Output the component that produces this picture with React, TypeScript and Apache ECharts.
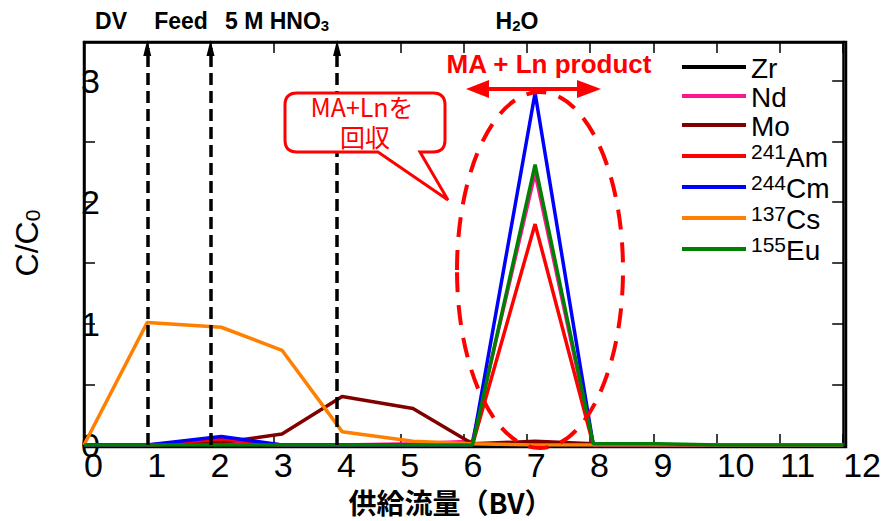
import React, { useEffect, useRef } from "react";
import * as echarts from "echarts";

const xValues = [0, 1, 2.17, 3.13, 4.08, 5.2, 6.14, 7.13, 8.05, 9.05, 10.05, 11.05, 12];
const zr = [0, 0, 0, 0, 0, 0, 0, 0.01, 0, 0, 0, 0, 0];
const nd = [0, 0, 0.02, 0, 0, 0.01, 0.03, 2.24, 0, 0, 0, 0, 0];
const mo = [0, 0, 0.02, 0.09, 0.4, 0.3, 0.01, 0.03, 0.01, 0, 0, 0, 0];
const am = [0, 0, 0.05, 0, 0, 0, 0, 1.82, 0, 0, 0, 0, 0];
const cm = [0, 0, 0.07, 0, 0, 0, 0, 2.9, 0, 0, 0, 0, 0];
const cs = [0, 1.01, 0.97, 0.78, 0.11, 0.03, 0.01, 0, 0, 0, 0, 0, 0];
const eu = [0, 0, 0, 0, 0, 0, 0, 2.31, 0.01, 0.01, 0, 0, 0];

const seriesNames = ["Zr", "Nd", "Mo", "241Am", "244Cm", "137Cs", "155Eu"];
const seriesLabels = ["{n|Zr}", "{n|Nd}", "{n|Mo}", "{s|241}{n|Am}", "{s|244}{n|Cm}", "{s|137}{n|Cs}", "{s|155}{n|Eu}"];
const seriesValues = [zr, nd, mo, am, cm, cs, eu];
const seriesColors = ["#000000", "#ff1493", "#800000", "#ff0000", "#0000ff", "#ff8000", "#008000"];
const stageLines = [1, 2, 4];

const xMin = 0;
const xMax = 12;
const yMax = 3.32;
const LATIN = "'Liberation Sans', Arial, sans-serif";
const CJK = "'Noto Sans CJK JP', 'Liberation Sans', sans-serif";

const calloutPath =
  "M297 93 H433 Q445 93 445 105 V140 Q445 152 433 152 H420 L448 200 L378 152 H297 Q285 152 285 140 V105 Q285 93 297 93 Z";

// plot frame in pixels (matches grid below)
const GL = 84, GT = 42, GR = 846, GB = 447;

export default function App() {
  const ref = useRef<HTMLDivElement>(null);
  useEffect(() => {
    if (!ref.current) return;
    try {
      echarts.graphic.registerShape("callout", echarts.graphic.extendPath(calloutPath, {}));
    } catch (e) {}
    const chart = echarts.init(ref.current, null, { renderer: "svg" });
    const mkLine = () => ({ show: true, onZero: false, lineStyle: { color: "#000", width: 2.5 } });
    const mkTick = () => ({ show: true, inside: true, length: 11, lineStyle: { color: "#000", width: 1.5 } });
    const series: any[] = seriesNames.map((name, i) => ({
      name,
      type: "line",
      data: xValues.map((x, j) => [x, seriesValues[i][j]]),
      symbol: "none",
      showSymbol: false,
      lineStyle: { width: 3.5, color: seriesColors[i] },
      itemStyle: { color: seriesColors[i] },
      emphasis: { disabled: true },
      z: 2 + i * 0.01,
    }));
    series[0].markLine = {
      silent: true,
      symbol: ["none", "triangle"],
      symbolSize: [8, 16],
      label: { show: false },
      lineStyle: { color: "#000", width: 3.5, type: [12, 6] },
      z: 10,
      data: stageLines.map((x) => [
        { coord: [x, 0] },
        { coord: [x, 3.27] },
      ]),
    };
    const frameStyle = { stroke: "#000000", lineWidth: 2.5 };
    const graphic: any[] = [
      { type: "polyline", z: 1, silent: true, shape: { points: [[GL, GB], [GL, GT], [GR, GT], [GR, GB], [GL, GB]] }, style: { ...frameStyle, fill: null } },
      {
        type: "text",
        x: 27,
        y: 243,
        rotation: Math.PI / 2,
        style: {
          text: "{a|C/C}{b|0}",
          align: "center",
          verticalAlign: "middle",
          fill: "#000",
          rich: {
            a: { fontSize: 32, lineHeight: 32, fontFamily: LATIN, fill: "#000" },
            b: { fontSize: 21, lineHeight: 8, verticalAlign: "bottom", fontFamily: LATIN, fill: "#000" },
          },
        },
      },
      { type: "text", x: 111, y: 21, style: { text: "DV", fontSize: 23, fontWeight: "bold", fontFamily: LATIN, fill: "#000", align: "center", verticalAlign: "middle" } },
      { type: "text", x: 181, y: 21, style: { text: "Feed", fontSize: 23, fontWeight: "bold", fontFamily: LATIN, fill: "#000", align: "center", verticalAlign: "middle" } },
      {
        type: "text",
        x: 225,
        y: 21,
        style: {
          text: "{m|5 M HNO}{s|3}",
          align: "left",
          verticalAlign: "middle",
          fill: "#000",
          rich: {
            m: { fontSize: 23, lineHeight: 23, fontWeight: "bold", fontFamily: LATIN, fill: "#000" },
            s: { fontSize: 15, lineHeight: 6, verticalAlign: "bottom", fontWeight: "bold", fontFamily: LATIN, fill: "#000" },
          },
        },
      },
      {
        type: "text",
        x: 517,
        y: 21,
        style: {
          text: "{m|H}{s|2}{m|O}",
          align: "center",
          verticalAlign: "middle",
          fill: "#000",
          rich: {
            m: { fontSize: 23, lineHeight: 23, fontWeight: "bold", fontFamily: LATIN, fill: "#000" },
            s: { fontSize: 15, lineHeight: 6, verticalAlign: "bottom", fontWeight: "bold", fontFamily: LATIN, fill: "#000" },
          },
        },
      },
      {
        type: "text",
        x: 549,
        y: 64,
        z: 100,
        style: { text: "MA + Ln product", fontSize: 26, fontWeight: "bold", fontFamily: LATIN, fill: "#ff0000", align: "center", verticalAlign: "middle" },
      },
      { type: "line", z: 100, shape: { x1: 486, y1: 89, x2: 580, y2: 89 }, style: { stroke: "#ff0000", lineWidth: 4 } },
      { type: "polygon", z: 100, shape: { points: [[466, 89], [489, 80], [489, 98]] }, style: { fill: "#ff0000" } },
      { type: "polygon", z: 100, shape: { points: [[601, 89], [577, 80], [577, 98]] }, style: { fill: "#ff0000" } },
      {
        type: "ellipse",
        z: 100,
        shape: { cx: 540, cy: 270, rx: 83, ry: 178 },
        style: { fill: "none", stroke: "#ff0000", lineWidth: 4, lineDash: [20, 13] },
      },
      { type: "callout", z: 100, x: 0, y: 0, style: { fill: "#ffffff", stroke: "#ff0000", lineWidth: 3 } },
      {
        type: "text",
        z: 101,
        x: 362,
        y: 106,
        style: { text: "MA+Lnを", fontSize: 25, fontFamily: CJK, fill: "#ff0000", align: "center", verticalAlign: "middle" },
      },
      {
        type: "text",
        z: 101,
        x: 365,
        y: 136,
        style: { text: "回収", fontSize: 25, fontFamily: CJK, fill: "#ff0000", align: "center", verticalAlign: "middle" },
      },
    ];
    const option: any = {
      animation: false,
      backgroundColor: "#fff",
      grid: { left: GL, right: 884 - GR, top: GT, bottom: 521 - GB, containLabel: false },
      xAxis: [
        {
          type: "value",
          min: xMin,
          max: xMax,
          interval: 1,
          position: "bottom",
          axisLine: mkLine(),
          axisTick: mkTick(),
          splitLine: { show: false },
          axisLabel: { align: "left", margin: 3, fontSize: 34, color: "#000", fontFamily: LATIN },
          name: "供給流量（BV）",
          nameLocation: "middle",
          nameGap: 43,
          nameTextStyle: { fontSize: 28, fontWeight: "bold", color: "#000", fontFamily: CJK, padding: [0, 26, 0, 0] },
        },
        {
          type: "value",
          min: xMin,
          max: xMax,
          interval: 1,
          position: "top",
          axisLine: mkLine(),
          axisTick: mkTick(),
          splitLine: { show: false },
          axisLabel: { show: false },
        },
      ],
      yAxis: [
        {
          type: "value",
          min: 0,
          max: yMax,
          interval: 0.5,
          position: "left",
          axisLine: mkLine(),
          axisTick: mkTick(),
          splitLine: { show: false },
          axisLabel: {
            align: "left",
            margin: 3,
            fontSize: 34,
            color: "#000",
            fontFamily: LATIN,
            formatter: (v: number) => (Math.abs(v - Math.round(v)) < 1e-9 ? String(Math.round(v)) : ""),
          },
        },
        {
          type: "value",
          min: 0,
          max: yMax,
          interval: 0.5,
          position: "right",
          axisLine: mkLine(),
          axisTick: mkTick(),
          splitLine: { show: false },
          axisLabel: { show: false },
        },
      ],
      legend: {
        orient: "vertical",
        left: 682,
        top: 54,
        itemGap: 1,
        itemWidth: 64,
        itemHeight: 4,
        icon: "rect",
        padding: 0,
        selectedMode: false,
        data: seriesNames,
        formatter: (name: string) => seriesLabels[seriesNames.indexOf(name)],
        textStyle: {
          color: "#000",
          fontFamily: LATIN,
          fontSize: 28,
          rich: {
            n: { fontSize: 28, lineHeight: 30, verticalAlign: "bottom", fontFamily: LATIN, color: "#000" },
            s: { fontSize: 21, lineHeight: 8, verticalAlign: "top", fontFamily: LATIN, color: "#000" },
          },
        },
      },
      graphic,
      series,
    };
    chart.setOption(option);
    return () => chart.dispose();
  }, []);
  return <div ref={ref} style={{ position: "fixed", left: 0, top: 0, width: 884, height: 521, background: "#fff" }} />;
}
